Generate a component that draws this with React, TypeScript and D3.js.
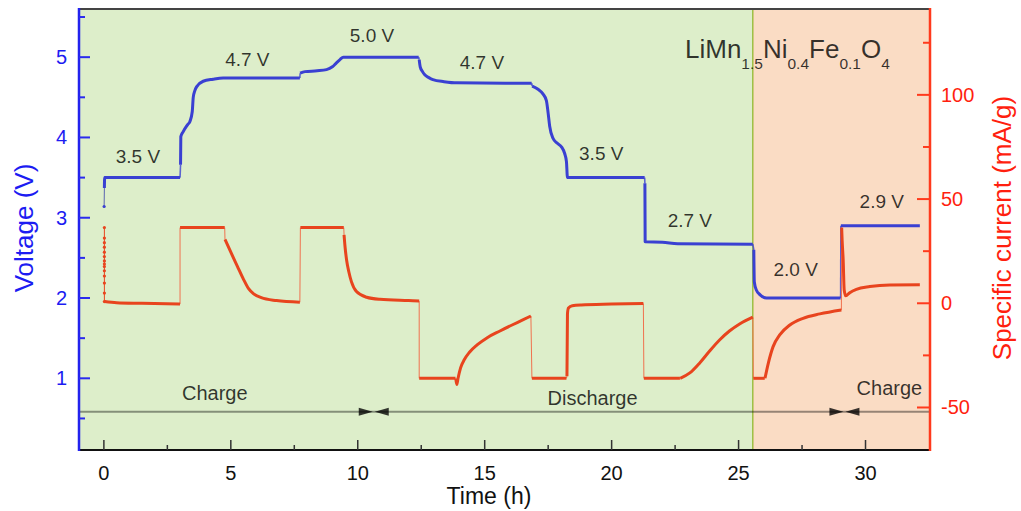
import React from 'react';
import * as d3 from 'd3';

type Pt = [number, number];

// ---- axis ticks ----
const timeMajorTicks = [0, 5, 10, 15, 20, 25, 30];
const timeMinorTicks = [2.5, 7.5, 12.5, 17.5, 22.5, 27.5];
const voltMajorTicks = [1, 2, 3, 4, 5];
const voltMinorTicks = [0.5, 1.5, 2.5, 3.5, 4.5, 5.5];
const currMajorTicks = [-50, 0, 50, 100];
const currMinorTicks = [-25, 25, 75, 125];

// ---- regions (h) ----
const chargeRegionEnd = 25.56;

// ---- voltage series (t in h, V) ----
const voltStart: Pt[] = [[0.01, 3.14], [0.02, 3.37]];
const voltHold35: Pt[] = [[0.02, 3.37], [0.03, 3.5], [3.0, 3.5]];
const voltCharge47: Pt[] = [[3.02, 3.66], [3.03, 4.01], [3.12, 4.07], [3.3, 4.16], [3.39, 4.2], [3.48, 4.32], [3.52, 4.5], [3.58, 4.58], [3.65, 4.63], [3.91, 4.7], [4.3, 4.725], [4.7, 4.74], [7.72, 4.74]];
const voltCharge50: Pt[] = [[7.73, 4.8], [7.92, 4.82], [8.4, 4.83], [8.77, 4.845], [9.0, 4.88], [9.16, 4.93], [9.3, 4.97], [9.43, 5.0], [12.4, 5.0]];
const voltDis47: Pt[] = [[12.42, 4.97], [12.46, 4.88], [12.55, 4.82], [12.64, 4.78], [12.8, 4.745], [12.96, 4.72], [13.4, 4.695], [13.9, 4.68], [16.85, 4.675]];
const voltDis35: Pt[] = [[16.87, 4.64], [17.1, 4.6], [17.3, 4.54], [17.43, 4.46], [17.5, 4.3], [17.56, 4.14], [17.69, 3.99], [17.85, 3.93], [18.03, 3.88], [18.15, 3.8], [18.22, 3.7], [18.26, 3.5], [21.3, 3.5]];
const voltDis27: Pt[] = [[21.31, 3.43], [21.32, 2.7], [22.0, 2.695], [22.6, 2.675], [25.56, 2.67]];
const voltDis20: Pt[] = [[25.6, 2.6], [25.62, 2.2], [25.7, 2.1], [25.85, 2.04], [26.1, 2.0], [29.02, 2.0]];
const voltCharge29: Pt[] = [[29.03, 2.9], [32.14, 2.9]];

// ---- current series (t in h, mA/g) ----
const currStartDotsT = 0.02;
const currStartDots = [36.3, 31.3, 29.1, 26.9, 24.5, 22.4, 20.3, 18.8, 17.6, 15.6, 13.1, 9.7, 4.9, 0.8];
const currRest: Pt[] = [[0.03, 0.8], [0.5, 0.3], [1.5, 0], [3.0, -0.4]];
const currHold1: Pt[] = [[3.0, 36.3], [4.76, 36.3]];
const currRelax1: Pt[] = [[4.77, 30.7], [5.0, 24.5], [5.25, 18], [5.5, 11.5], [5.7, 7], [5.9, 4.5], [6.2, 2.7], [6.8, 1.3], [7.72, 0.5]];
const currHold2: Pt[] = [[7.74, 36.3], [9.45, 36.3]];
const currRelax2: Pt[] = [[9.46, 32.8], [9.5, 27], [9.56, 20.8], [9.65, 15], [9.75, 10.4], [9.95, 5.6], [10.35, 2.9], [10.87, 1.9], [12.0, 1.3], [12.42, 1.1]];
const currHold3: Pt[] = [[12.42, -36], [13.85, -36]];
const currRelax3: Pt[] = [[13.86, -36], [13.9, -39], [13.95, -36], [14.05, -31], [14.2, -27], [14.4, -23.5], [14.7, -20], [15.1, -16.5], [15.6, -13.3], [16.1, -10.3], [16.5, -8], [16.82, -6.1]];
const currHold4: Pt[] = [[16.86, -36], [18.22, -36]];
const currRelax4: Pt[] = [[18.24, -35], [18.26, -5], [18.3, -2.3], [18.45, -1.2], [18.8, -0.8], [20, -0.4], [21.25, -0.1]];
const currHold5: Pt[] = [[21.27, -36], [22.69, -36]];
const currRelax5: Pt[] = [[22.7, -36], [23.08, -33.4], [23.47, -28.6], [23.86, -22.9], [24.25, -17.6], [24.64, -13.3], [25.04, -9.9], [25.56, -6.6]];
const currHold6: Pt[] = [[25.58, -36], [26.03, -36]];
const currRelax6: Pt[] = [[26.04, -36], [26.17, -28.8], [26.36, -20.8], [26.62, -15.2], [27.02, -10.4], [27.54, -7.2], [28.2, -5.1], [29.05, -3.2]];
const currRelax7: Pt[] = [[29.06, 36.3], [29.08, 30], [29.12, 20.8], [29.16, 6.4], [29.22, 3.6], [29.38, 5.1], [29.64, 6.7], [30.17, 8.0], [30.96, 8.8], [32.14, 8.9]];

// ---- annotations ----
const stepLabels = ['3.5 V', '4.7 V', '5.0 V', '4.7 V', '3.5 V', '2.7 V', '2.0 V', '2.9 V'];
const stepLabelT = [1.34, 5.65, 10.56, 14.89, 19.59, 23.08, 27.25, 30.64];
const stepLabelV = [3.68, 4.89, 5.19, 4.85, 3.72, 2.89, 2.27, 3.12];
const phaseLabels = ['Charge', 'Discharge', 'Charge'];
const phaseLabelT = [4.37, 19.25, 30.94];
const phaseLabelV = [0.73, 0.67, 0.79];
const phaseArrowV = 0.584;
const phaseBoundaries = [10.63, 29.17];

const FONT = '"Liberation Sans", Arial, Helvetica, sans-serif';

export default function App() {
  const L = 79, R = 930, T = 9, B = 450;
  const x = d3.scaleLinear().domain([-0.98, 32.54]).range([L, R]);
  const yV = d3.scaleLinear().domain([0.107, 5.6]).range([B, T]);
  const yI = d3.scaleLinear().domain([-70.4, 141.2]).range([B, T]);

  const lineV = d3.line<Pt>().x(d => x(d[0])).y(d => yV(d[1])).curve(d3.curveMonotoneX);
  const lineI = d3.line<Pt>().x(d => x(d[0])).y(d => yI(d[1])).curve(d3.curveMonotoneX);
  const straightV = d3.line<Pt>().x(d => x(d[0])).y(d => yV(d[1]));
  const straightI = d3.line<Pt>().x(d => x(d[0])).y(d => yI(d[1]));

  const voltSegs = [voltHold35, voltCharge47, voltCharge50, voltDis47, voltDis35, voltDis27, voltDis20, voltCharge29];
  const currSegs = [currRest, currHold1, currRelax1, currHold2, currRelax2, currHold3, currRelax3, currHold4, currRelax4, currHold5, currRelax5, currHold6, currRelax6, currRelax7];

  const connectors = (segs: Pt[][]) => segs.slice(1).map((s, i) => [segs[i][segs[i].length - 1], s[0]] as Pt[]);

  const blue = '#3a40d2';
  const red = '#e8441e';
  const green = '#ddeeca';
  const orange = '#fadcc4';
  const xg = x(chargeRegionEnd);
  const arrowY = yV(phaseArrowV);

  return (
    <svg width={1021} height={511} style={{ position: 'absolute', left: 0, top: 0, background: '#fff' }} fontFamily={FONT}>
      {/* backgrounds */}
      <rect x={L} y={T} width={xg - L} height={B - T} fill={green} stroke="#8cc63f" strokeWidth={1} />
      <rect x={xg} y={T} width={R - xg} height={B - T} fill={orange} stroke="#f5a46a" strokeWidth={1} />
      <line x1={xg} x2={xg} y1={T} y2={B} stroke="#8cc63f" strokeWidth={1.2} />

      {/* phase arrow line */}
      <line x1={L} x2={R} y1={arrowY} y2={arrowY} stroke="#000" strokeOpacity={0.4} strokeWidth={2} />
      {phaseBoundaries.map((t, i) => {
        const cx = x(t);
        return (
          <g key={i} fill="#000" fillOpacity={0.78}>
            <path d={`M${cx - 15},${arrowY - 4} L${cx - 1},${arrowY} L${cx - 15},${arrowY + 4} Z`} />
            <path d={`M${cx + 15},${arrowY - 4} L${cx + 1},${arrowY} L${cx + 15},${arrowY + 4} Z`} />
          </g>
        );
      })}
      {phaseLabels.map((s, i) => (
        <text key={i} x={x(phaseLabelT[i])} y={yV(phaseLabelV[i])} textAnchor="middle" fontSize={20} fill="#000" fillOpacity={0.78}>{s}</text>
      ))}

      {/* step labels */}
      {stepLabels.map((s, i) => (
        <text key={i} x={x(stepLabelT[i])} y={yV(stepLabelV[i])} textAnchor="middle" fontSize={19} fill="#000" fillOpacity={0.78}>{s}</text>
      ))}

      {/* title */}
      <text x={685} y={58} fontSize={26} fill="#000" fillOpacity={0.78}>
        LiMn<tspan fontSize={15.5} dy={11}>1.5</tspan>
        <tspan dy={-11}>Ni</tspan><tspan fontSize={15.5} dy={11}>0.4</tspan>
        <tspan dy={-11}>Fe</tspan><tspan fontSize={15.5} dy={11}>0.1</tspan>
        <tspan dy={-11}>O</tspan><tspan fontSize={15.5} dy={11}>4</tspan>
      </text>

      {/* voltage series */}
      <path d={straightV(voltStart) || ''} fill="none" stroke="#5a64b0" strokeWidth={1} />
      <circle cx={x(voltStart[0][0])} cy={yV(voltStart[0][1])} r={1.6} fill={blue} />
      {connectors(voltSegs).map((c, i) => (
        <path key={i} d={straightV(c) || ''} fill="none" stroke={blue} strokeWidth={1.6} strokeOpacity={0.8} />
      ))}
      {voltSegs.map((s, i) => (
        <path key={i} d={lineV(s) || ''} fill="none" stroke={blue} strokeWidth={3} strokeLinejoin="round" />
      ))}

      {/* current series */}
      <line x1={x(currStartDotsT)} x2={x(currStartDotsT)} y1={yI(currStartDots[0])} y2={yI(currStartDots[currStartDots.length - 1])} stroke={red} strokeWidth={1} />
      {currStartDots.map((v, i) => (
        <circle key={i} cx={x(currStartDotsT)} cy={yI(v)} r={1.6} fill={red} />
      ))}
      {connectors(currSegs).map((c, i) => (
        <path key={i} d={straightI(c) || ''} fill="none" stroke="#f0724f" strokeWidth={1} />
      ))}
      {currSegs.map((s, i) => (
        <path key={i} d={lineI(s) || ''} fill="none" stroke={red} strokeWidth={3} strokeLinejoin="round" />
      ))}

      {/* frame */}
      <line x1={L} x2={R} y1={T} y2={T} stroke="#444" strokeWidth={2} />
      <line x1={L} x2={R + 1} y1={B} y2={B} stroke="#111" strokeWidth={2} />
      <line x1={L} x2={L} y1={T - 1} y2={B + 1} stroke="#2222ee" strokeWidth={2.5} />
      <line x1={R} x2={R} y1={T - 1} y2={B + 1} stroke="#ff3a1c" strokeWidth={2.5} />

      {/* bottom ticks */}
      {timeMajorTicks.map(t => (
        <g key={t}>
          <line x1={x(t)} x2={x(t)} y1={B} y2={B - 10} stroke="#333" strokeWidth={1.5} />
          <text x={x(t)} y={480} textAnchor="middle" fontSize={20} fill="#111">{t}</text>
        </g>
      ))}
      {timeMinorTicks.map(t => (
        <line key={t} x1={x(t)} x2={x(t)} y1={B} y2={B - 5} stroke="#333" strokeWidth={1.5} />
      ))}
      <text x={489} y={504} textAnchor="middle" fontSize={23} fill="#111">Time (h)</text>

      {/* left ticks */}
      {voltMajorTicks.map(v => (
        <g key={v}>
          <line x1={L} x2={L + 11} y1={yV(v)} y2={yV(v)} stroke="#2a2aee" strokeWidth={2} />
          <text x={67} y={yV(v) + 7} textAnchor="end" fontSize={20} fill="#1c1cf2">{v}</text>
        </g>
      ))}
      {voltMinorTicks.map(v => (
        <line key={v} x1={L} x2={L + 6} y1={yV(v)} y2={yV(v)} stroke="#2a2aee" strokeWidth={2} />
      ))}
      <text transform="translate(33,228) rotate(-90)" textAnchor="middle" fontSize={26} fill="#1c1cf2">Voltage (V)</text>

      {/* right ticks */}
      {currMajorTicks.map(v => (
        <g key={v}>
          <line x1={R} x2={R - 13} y1={yI(v)} y2={yI(v)} stroke="#ff3a1c" strokeWidth={2} />
          <text x={941} y={yI(v) + 7} textAnchor="start" fontSize={20} fill="#ff1f0f">{v}</text>
        </g>
      ))}
      {currMinorTicks.map(v => (
        <line key={v} x1={R} x2={R - 7} y1={yI(v)} y2={yI(v)} stroke="#ff3a1c" strokeWidth={2} />
      ))}
      <text transform="translate(1011,228) rotate(-90)" textAnchor="middle" fontSize={26} fill="#ff1f0f">Specific current (mA/g)</text>
    </svg>
  );
}
